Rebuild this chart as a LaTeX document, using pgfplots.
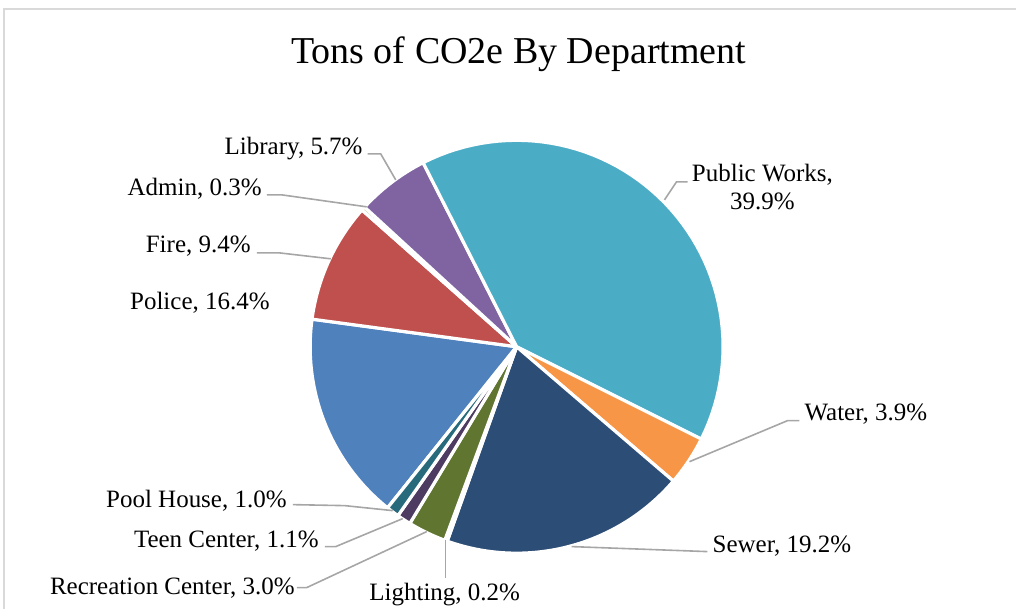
\documentclass[border=0pt]{standalone}
\usepackage{pgfplots}
\pgfplotsset{compat=1.18}
\usepackage{pgfplotstable}
\usepackage{fontspec}
\setmainfont{Liberation Serif}

\definecolor{s0}{HTML}{4F81BD}
\definecolor{s1}{HTML}{C0504D}
\definecolor{s2}{HTML}{9BBB59}
\definecolor{s3}{HTML}{8064A2}
\definecolor{s4}{HTML}{4BACC6}
\definecolor{s5}{HTML}{F79646}
\definecolor{s6}{HTML}{2C4D75}
\definecolor{s7}{HTML}{772C2A}
\definecolor{s8}{HTML}{5F7530}
\definecolor{s9}{HTML}{4D3B62}
\definecolor{s10}{HTML}{276A7C}
\definecolor{leader}{HTML}{A6A6A6}
\definecolor{frame}{HTML}{D9D9D9}

% share of tons of CO2e by department (percent), clockwise from Police
\pgfplotstableread[col sep=comma]{
dept,value
Police,16.4
Fire,9.4
Admin,0.3
Library,5.7
Public Works,39.9
Water,3.9
Sewer,19.2
Lighting,0.2
Recreation Center,3.0
Teen Center,1.1
Pool House,1.0
}\codata

\begin{document}
\begin{tikzpicture}
\begin{axis}[
  width=1017pt, height=609pt, scale only axis, hide axis,
  xmin=0, xmax=1017, ymin=0, ymax=609, y dir=reverse,
  clip=false,
]
\def\cx{517}
\def\cy{347}
\def\R{206.6}
\def\startang{-128.7}
\pgfplotstablegetrowsof{\codata}
\pgfmathtruncatemacro{\nrows}{\pgfplotsretval-1}
\def\total{0}
\pgfplotsforeachungrouped \i in {0,...,\nrows}{%
  \pgfplotstablegetelem{\i}{value}\of\codata
  \pgfmathsetmacro{\total}{\total+\pgfplotsretval}%
}
\pgfmathsetmacro{\degper}{360/\total}
\def\cum{0}
\pgfplotsforeachungrouped \i in {0,...,\nrows}{%
  \pgfplotstablegetelem{\i}{value}\of\codata
  \let\v\pgfplotsretval
  \pgfmathsetmacro{\a}{\startang-\degper*\cum}%
  \pgfmathsetmacro{\cumnew}{\cum+\v}%
  \pgfmathsetmacro{\b}{\startang-\degper*\cumnew}%
  \let\cum\cumnew
  \edef\temp{\noexpand\addplot[fill=s\i, draw=white, line width=3.2pt,
     line join=round, domain=\b:\a, samples=60]
     ({\cx+\R*cos(x)},{\cy-\R*sin(x)}) -- (axis cs:\cx,\cy) -- cycle;}%
  \temp
}

% frame
\draw[frame, line width=1.5pt] (4,609) -- (4,9) -- (1017,9);

% title
\node[anchor=base, font=\fontsize{38}{44}\selectfont] at (519,64) {Tons of CO2e By Department};

% leader lines
\begin{scope}[leader, line width=1.6pt]
\draw (368,154) -- (381,154) -- (396,180);
\draw (267,195) -- (282,195) -- (367,207);
\draw (257,253) -- (279,253) -- (331,259);
\draw (293,505) -- (345,506) -- (393,511);
\draw (325,547) -- (336,547) -- (403,519);
\draw (297,588) -- (307,588) -- (427,532);
\draw (446,540) -- (446,578);
\draw (572,547) -- (708,552);
\draw (690,462) -- (788,421) -- (800,421);
\draw (665,200) -- (677,182) -- (688,182);
\end{scope}

% labels
\begin{scope}[every node/.style={font=\fontsize{25}{29}\selectfont, inner sep=0pt}]
\node[anchor=base east] at (363,155) {Library, 5.7\%};
\node[anchor=base east] at (262,196) {Admin, 0.3\%};
\node[anchor=base east] at (251,253) {Fire, 9.4\%};
\node[anchor=base east] at (270,310) {Police, 16.4\%};
\node[anchor=base east] at (287,508) {Pool House, 1.0\%};
\node[anchor=base east] at (319,548) {Teen Center, 1.1\%};
\node[anchor=base east] at (295,595) {Recreation Center, 3.0\%};
\node[anchor=base] at (445,601) {Lighting, 0.2\%};
\node[anchor=base west] at (713,553) {Sewer, 19.2\%};
\node[anchor=base west] at (805,421) {Water, 3.9\%};
\node[anchor=base] at (763,182) {Public Works,};
\node[anchor=base] at (763,210) {39.9\%};
\end{scope}
\end{axis}
\useasboundingbox (0,0) rectangle (1017pt,609pt);
\end{tikzpicture}
\end{document}
